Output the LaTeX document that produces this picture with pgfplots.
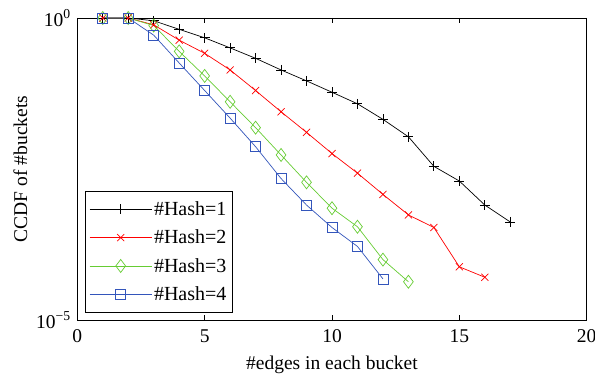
\documentclass[border=0pt]{standalone}
\usepackage{fontspec}
\setmainfont{Liberation Serif}
\usepackage{pgfplots}
\pgfplotsset{compat=1.18}
\definecolor{cblack}{RGB}{0,0,0}
\definecolor{cred}{RGB}{255,0,0}
\definecolor{cgreen}{RGB}{102,204,51}
\definecolor{cblue}{RGB}{51,85,187}
\begin{document}
\begin{tikzpicture}
\useasboundingbox (-77.3pt,-57pt) rectangle (517.7pt,320pt);
\begin{axis}[
  scale only axis,
  width=509.4pt, height=302pt,
  xmin=0, xmax=20,
  ymode=log, ymin=1e-5, ymax=1,
  xtick={0,5,10,15,20},
  ytick={1e-5,1},
  yticklabels={10\textsuperscript{−5},10\textsuperscript{0}},
  minor ytick={},
  log ticks with fixed point=false,
  tick align=inside,
  major tick length=5pt,
  minor tick length=0pt,
  axis line style={line width=0.8pt},
  every tick/.style={line width=0.6pt,black},
  /pgf/number format/assume math mode=true,
  tick label style={font=\fontsize{19.5}{22}\selectfont},
  xticklabel style={yshift=-6pt},
  yticklabel style={xshift=-3pt},
  label style={font=\fontsize{19.5}{22}\selectfont},
  xlabel={\#edges in each bucket},
  ylabel={CCDF of \#buckets},
  xlabel style={yshift=-6pt},
  ylabel style={yshift=2pt},
  legend cell align=left,
  legend style={at={(0.015,0.025)},anchor=south west,
    font=\fontsize{20}{22}\selectfont, draw=black, line width=0.8pt,
    inner xsep=4pt, inner ysep=8pt, row sep=9pt},
  legend image code/.code={\draw[mark repeat=2,mark phase=2] plot coordinates {(0pt,0pt) (31pt,0pt) (62pt,0pt)};},
]
\addplot[cblack, line width=0.7pt, mark=+, mark size=5pt, mark options={line width=0.8pt}] coordinates {
(1,1) (2,1) (3,0.90) (4,0.65) (5,0.47) (6,0.32) (7,0.215) (8,0.138) (9,0.091) (10,0.059)
(11,0.038) (12,0.021) (13,0.0108) (14,0.0035) (15,0.002) (16,8.0e-4) (17,4.2e-4)};
\addlegendentry{\#Hash=1}
\addplot[cred, line width=0.7pt, mark=x, mark size=5pt, mark options={line width=0.7pt}] coordinates {
(1,1) (2,1) (3,0.77) (4,0.43) (5,0.26) (6,0.138) (7,0.063) (8,0.028) (9,0.0128) (10,0.0057)
(11,0.0027) (12,0.0012) (13,5.5e-4) (14,3.4e-4) (15,7.6e-5) (16,5.1e-5)};
\addlegendentry{\#Hash=2}
\addplot[cgreen, line width=0.7pt, mark=diamond, mark size=6.5pt, mark options={line width=0.7pt}] coordinates {
(1,1) (2,1) (3,0.75) (4,0.28) (5,0.11) (6,0.041) (7,0.0153) (8,0.0054) (9,0.0019) (10,7.1e-4)
(11,3.5e-4) (12,1.0e-4) (13,4.3e-5)};
\addlegendentry{\#Hash=3}
\addplot[cblue, line width=0.7pt, mark=square, mark size=5pt, mark options={line width=0.7pt}] coordinates {
(1,1) (2,1) (3,0.52) (4,0.18) (5,0.063) (6,0.022) (7,0.0074) (8,0.0022) (9,8.0e-4) (10,3.4e-4)
(11,1.65e-4) (12,4.8e-5)};
\addlegendentry{\#Hash=4}
\end{axis}
\end{tikzpicture}
\end{document}
